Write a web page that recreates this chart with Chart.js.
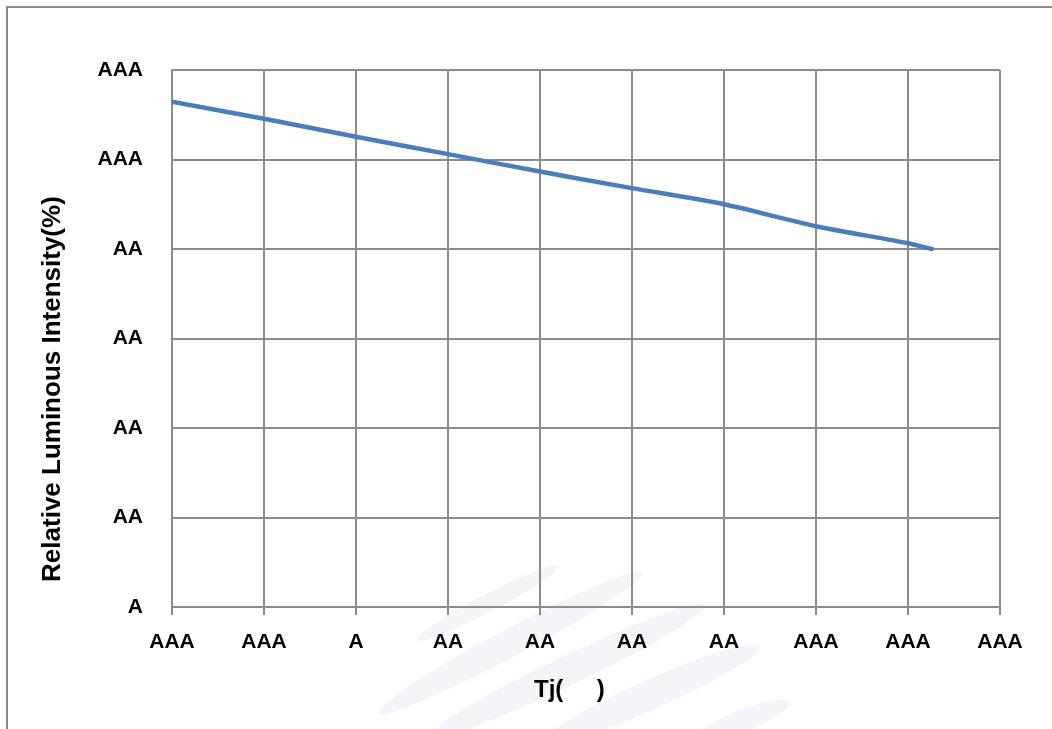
<!DOCTYPE html>
<html>
<head>
<meta charset="utf-8">
<script src="https://cdn.jsdelivr.net/npm/chart.js@4.4.1/dist/chart.umd.min.js"></script>
<style>
  html, body { margin: 0; padding: 0; width: 1052px; height: 729px; overflow: hidden; background: #ffffff; }
  #frame { position: absolute; left: 6px; top: 6px; width: 2000px; height: 2000px; border-left: 2px solid #8a8a8a; border-top: 2px solid #8a8a8a; box-sizing: border-box; }
  #wrap { position: absolute; left: 0; top: 0; width: 1052px; height: 729px; }
</style>
</head>
<body>
<div id="frame"></div>
<div id="wrap"><canvas id="c" width="1052" height="729"></canvas></div>
<script>
// Data
const tempC = [-40, -20, 0, 20, 40, 60, 80, 100, 120, 125.2];
const intensity = [112.9, 109.1, 105.1, 101.2, 97.3, 93.6, 90.0, 85.1, 81.3, 80.0];
const xTickValues = [-40, -20, 0, 20, 40, 60, 80, 100, 120, 140];
const xTickLabels = ["AAA", "AAA", "A", "AA", "AA", "AA", "AA", "AAA", "AAA", "AAA"];
const yTickValues = [0, 20, 40, 60, 80, 100, 120];
const yTickLabels = ["A", "AA", "AA", "AA", "AA", "AAA", "AAA"];
const xTitle = "Tj(     )";
const yTitle = "Relative Luminous Intensity(%)";

const FONT = "'Liberation Sans', Arial, sans-serif";

// faint background watermark swooshes (decoration)
const watermark = {
  id: 'watermark',
  beforeDraw(chart) {
    const ctx = chart.ctx;
    const shapes = [
      [488, 603, 80, 9, -27.5],
      [510, 643, 150, 14, -28],
      [569, 670, 152, 15, -25.5],
      [652, 694, 118, 15, -24],
      [740, 722, 55, 11, -22]
    ];
    ctx.save();
    ctx.fillStyle = 'rgba(226,230,240,0.42)';
    shapes.forEach(s => {
      ctx.beginPath();
      ctx.ellipse(s[0], s[1], s[2], s[3], s[4] * Math.PI / 180, 0, Math.PI * 2);
      ctx.fill();
    });
    ctx.restore();
  }
};

const gridColor = '#8c8c8c';

new Chart(document.getElementById('c'), {
  type: 'line',
  data: {
    datasets: [{
      data: tempC.map((t, i) => ({ x: t, y: intensity[i] })),
      borderColor: '#4a7ebb',
      borderWidth: 4.5,
      pointRadius: 0,
      tension: 0.25,
      borderCapStyle: 'round',
      borderJoinStyle: 'round',
      fill: false
    }]
  },
  options: {
    responsive: false,
    animation: false,
    events: [],
    layout: { padding: { left: 0, top: 70, right: 52, bottom: 0 } },
    plugins: { legend: { display: false }, tooltip: { enabled: false } },
    scales: {
      x: {
        type: 'linear',
        min: -40, max: 140,
        afterFit(s) { s.height = 122; },
        afterBuildTicks(s) { s.ticks = xTickValues.map(v => ({ value: v })); },
        ticks: {
          autoSkip: false, maxRotation: 0, minRotation: 0,
          padding: 15,
          color: '#000',
          font: { family: FONT, size: 21, weight: 'bold' },
          callback(v) { const i = xTickValues.indexOf(v); return i >= 0 ? xTickLabels[i] : ''; }
        },
        grid: { color: gridColor, lineWidth: 2, drawTicks: true, tickLength: 8, tickColor: gridColor },
        border: { display: true, color: gridColor, width: 2 },
        title: {
          display: true, text: xTitle + "     ", color: '#000',
          font: { family: FONT, size: 24, weight: 'bold' },
          padding: { top: 0, bottom: 24 }
        }
      },
      y: {
        type: 'linear',
        min: 0, max: 120,
        afterFit(s) { s.width = 172; },
        afterBuildTicks(s) { s.ticks = yTickValues.map(v => ({ value: v })); },
        ticks: {
          padding: 29,
          color: '#000',
          font: { family: FONT, size: 21, weight: 'bold' },
          callback(v) { const i = yTickValues.indexOf(v); return i >= 0 ? yTickLabels[i] : ''; }
        },
        grid: { color: gridColor, lineWidth: 2, drawTicks: false },
        border: { display: true, color: gridColor, width: 2 },
        title: {
          display: true, text: yTitle + "              ", color: '#000',
          font: { family: FONT, size: 26, weight: 'bold' },
          padding: { top: 37, bottom: 0 }
        }
      }
    }
  },
  plugins: [watermark]
});
</script>
</body>
</html>
